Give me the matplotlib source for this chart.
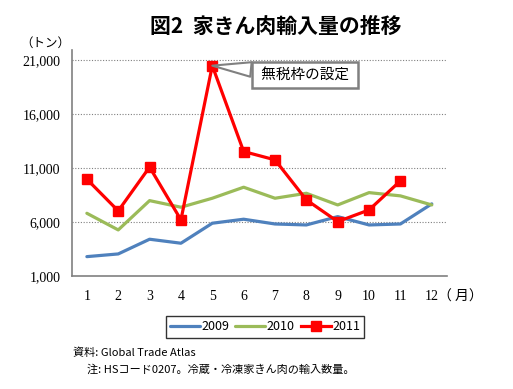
import matplotlib
matplotlib.use("Agg")
import matplotlib.pyplot as plt

plt.rcParams['font.family'] = ['Noto Sans CJK JP', 'DejaVu Sans']

months = list(range(1, 13))
month_labels = [str(m) for m in months]
v2009 = [2790, 3040, 4400, 4030, 5880, 6250, 5810, 5720, 6490, 5720, 5810, 7670]
v2010 = [6800, 5260, 7970, 7360, 8190, 9210, 8190, 8650, 7570, 8710, 8410, 7570]
v2011 = [9950, 7020, 11070, 6190, 20450, 12510, 11740, 8040, 6030, 7110, 9800]
yticks = [1000, 6000, 11000, 16000, 21000]
ytick_labels = ["1,000", "6,000", "11,000", "16,000", "21,000"]

fig = plt.figure(figsize=(5.13, 3.89), dpi=100)
ax = fig.add_axes([0.140, 0.2905, 0.731, 0.581])

grid_c = '#808080'
for y in yticks[1:]:
    ax.axhline(y, color=grid_c, lw=0.8, ls=(0, (1, 1.5)), zorder=0)

ax.plot(months, v2009, color='#4F81BD', lw=2.3, label='2009', solid_capstyle='round')
ax.plot(months, v2010, color='#9BBB59', lw=2.3, label='2010', solid_capstyle='round')
ax.plot(months[:len(v2011)], v2011, color='#FF0000', lw=2.3, marker='s', ms=6.5,
        label='2011')

ax.set_xlim(0.52, 12.48)
ax.set_ylim(1000, 21900)
ax.set_xticks(months)
ax.set_xticklabels(month_labels, fontfamily='Liberation Serif', fontsize=10)
ax.set_yticks(yticks)
ax.set_yticklabels(ytick_labels, fontfamily='Liberation Serif', fontsize=10)
ax.tick_params(length=0, pad=8)
ax.tick_params(axis='x', pad=10)
for s in ['top', 'right']:
    ax.spines[s].set_visible(False)
for s in ['left', 'bottom']:
    ax.spines[s].set_color(grid_c)
    ax.spines[s].set_linewidth(1.2)

ax.annotate(' 無税枠の設定 ', xy=(5, v2011[4]), xytext=(7.95, 19610),
            fontsize=10.5, ha='center', va='center',
            bbox=dict(boxstyle='square,pad=0.4', fc='white', ec=grid_c, lw=1.8),
            arrowprops=dict(arrowstyle='wedge,tail_width=1.0', fc='white', ec=grid_c, lw=1.5,
                            shrinkA=0, shrinkB=0))

fig.text(0.537, 0.932, '図2  家きん肉輸入量の推移', fontsize=15, fontweight='bold',
         ha='center', va='center')
fig.text(0.088, 0.889, '（トン）', fontsize=9, ha='center', va='center')
fig.text(0.897, 0.238, '（ 月）', fontsize=10, ha='center', va='center')

leg = ax.legend(loc='center', ncol=3, frameon=True, fancybox=False,
                edgecolor='black', fontsize=9, handlelength=2.4, handletextpad=0.1,
                columnspacing=0.5, borderpad=0.35)
leg.get_frame().set_linewidth(1.0)
leg.set_bbox_to_anchor((265 / 513, 1 - 327 / 389), transform=fig.transFigure)

fig.text(73 / 513, 1 - 353 / 389, '資料: Global Trade Atlas', fontsize=8, va='center')
fig.text(87 / 513, 1 - 370 / 389, '注: HSコード0207。冷蔵・冷凍家きん肉の輸入数量。', fontsize=8,
         va='center')

fig.savefig('out.png', dpi=100)
